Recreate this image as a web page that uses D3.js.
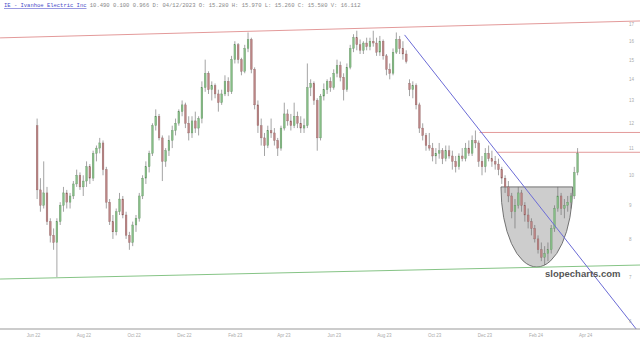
<!DOCTYPE html>
<html lang="en">
  <head>
    <meta charset="utf-8">
    <title>IE - Ivanhoe Electric Inc</title>
    <script src="https://d3js.org/d3.v7.min.js"></script>
    <style>
      body { margin: 0; background: #fff; }
    </style>
  </head>
  <body>
    <script type="text/javascript">

      var w = 640;
      var h = 343;
      var plotBottom = 329;

      // candles, one every 4 days
      var opens = [11.9,9.5,9.0,9.4,8.5,8.1,7.9,8.5,9.0,9.4,
                   9.1,9.3,9.7,10.0,9.6,9.8,10.3,9.9,10.8,11.0,
                   11.2,10.2,9.1,8.5,8.2,8.8,9.2,8.7,8.1,7.9,
                   8.4,8.6,9.3,9.9,10.3,10.8,11.9,12.3,11.4,10.5,
                   10.9,11.3,11.7,12.0,12.5,12.8,12.0,11.6,12.1,11.8,
                   12.2,13.6,14.3,13.5,13.7,13.3,12.9,13.3,13.9,13.4,
                   15.0,15.8,15.0,14.4,15.6,16.1,14.5,12.8,11.9,11.4,
                   11.1,11.7,11.6,11.3,11.0,11.8,12.4,12.1,11.9,12.3,
                   12.0,11.8,11.9,13.6,13.8,13.0,11.4,13.2,13.5,13.9,
                   13.6,14.3,14.7,14.1,13.5,14.6,15.6,16.2,15.8,15.5,
                   15.9,15.7,16.0,15.9,15.4,16.0,15.2,14.5,14.3,15.4,
                   16.1,15.6,15.3,13.8,13.5,13.7,12.8,11.8,11.5,11.1,
                   11.0,10.7,10.8,10.9,10.6,10.9,10.7,10.5,10.3,10.7,
                   10.6,11.0,10.8,11.3,11.2,10.5,10.3,10.8,10.6,10.5,
                   10.4,10.2,9.9,9.6,9.3,8.8,9.0,9.4,9.0,8.7,
                   8.5,8.3,8.0,7.7,7.5,7.6,7.7,8.3,8.9,9.3,
                   8.9,9.0,9.1,9.3,10.1];
      var highs = [12.2,9.9,10.5,9.6,8.6,8.3,8.6,9.1,9.6,9.5,
                   9.4,9.8,10.2,10.1,10.0,10.5,10.4,10.9,11.1,11.4,
                   11.3,10.3,9.2,8.7,8.9,9.4,9.3,8.8,8.2,8.5,
                   8.7,9.4,10.0,10.5,10.9,12.0,12.6,12.4,11.5,11.0,
                   11.5,11.9,12.2,12.6,13.0,12.9,12.3,12.3,12.5,12.3,
                   13.9,15.0,14.4,13.9,13.8,13.5,13.5,14.2,14.1,15.2,
                   16.0,15.9,15.1,15.8,16.5,16.2,14.6,13.0,12.2,11.6,
                   11.9,12.2,11.8,11.4,11.9,12.9,12.6,12.4,12.9,12.5,
                   12.3,12.2,14.8,14.0,13.9,13.1,13.3,13.8,14.0,14.1,
                   14.5,15.0,14.9,14.3,14.8,15.8,16.4,16.6,16.1,16.0,
                   16.2,16.2,16.6,16.2,16.3,16.1,15.3,14.8,15.6,16.5,
                   16.3,16.0,15.5,14.0,13.9,13.8,12.9,12.0,11.6,11.6,
                   11.2,11.0,11.2,11.0,11.1,11.1,10.9,10.7,10.8,11.0,
                   11.2,11.3,11.5,11.7,11.3,10.7,11.0,11.1,10.9,10.7,
                   10.6,10.3,10.0,9.8,9.4,9.2,9.6,9.5,9.1,8.9,
                   8.6,8.4,8.1,7.9,7.8,7.9,8.4,9.0,9.6,9.4,
                   9.2,9.3,9.4,10.3,11.0];
      var lows = [9.2,8.8,8.9,8.4,7.9,7.7,7.0,8.4,8.8,8.9,
                  8.9,9.2,9.6,9.5,9.3,9.6,9.7,9.8,10.5,10.8,
                  10.0,8.9,8.4,8.0,8.1,8.7,8.6,8.0,7.7,7.8,
                  8.2,8.5,9.2,9.7,10.1,10.7,11.7,11.3,9.8,10.3,
                  10.7,11.0,11.5,11.9,12.3,11.8,11.3,11.4,11.6,11.5,
                  12.0,13.4,13.3,13.0,13.1,12.5,12.8,13.2,13.2,13.3,
                  14.8,14.8,14.2,14.3,15.4,14.3,12.6,11.6,11.1,10.7,
                  11.0,11.4,11.1,10.7,10.9,11.7,11.9,11.7,11.8,11.8,
                  11.6,11.6,11.8,13.2,12.8,10.9,11.3,13.0,13.3,13.4,
                  13.5,14.1,13.9,13.0,13.4,14.5,15.4,15.5,15.3,15.3,
                  15.5,15.5,15.7,15.2,15.2,15.0,14.2,14.0,14.2,15.3,
                  15.3,15.0,14.8,13.2,13.1,12.6,11.6,11.3,10.9,10.9,
                  10.5,10.4,10.6,10.4,10.5,10.6,10.2,10.1,10.2,10.5,
                  10.5,10.7,10.7,11.0,10.3,10.0,10.1,10.5,10.3,10.2,
                  10.0,9.7,9.4,9.1,8.6,8.3,8.9,8.8,8.5,8.3,
                  8.1,7.9,7.6,7.4,7.3,7.4,7.6,8.2,8.8,8.7,
                  8.6,8.8,8.9,9.2,10.0];
      var closes = [9.5,9.0,9.4,8.5,8.1,7.9,8.5,9.0,9.4,9.1,
                    9.3,9.7,10.0,9.6,9.8,10.3,9.9,10.8,11.0,11.2,
                    10.2,9.1,8.5,8.2,8.8,9.2,8.7,8.1,7.9,8.4,
                    8.6,9.3,9.9,10.3,10.8,11.9,12.3,11.4,10.5,10.9,
                    11.3,11.7,12.0,12.5,12.8,12.0,11.6,12.1,11.8,12.2,
                    13.6,14.3,13.5,13.7,13.3,12.9,13.3,13.9,13.4,15.0,
                    15.8,15.0,14.4,15.6,16.1,14.5,12.8,11.9,11.4,11.1,
                    11.7,11.6,11.3,11.0,11.8,12.4,12.1,11.9,12.3,12.0,
                    11.8,11.9,13.6,13.8,13.0,11.4,13.2,13.5,13.9,13.6,
                    14.3,14.7,14.1,13.5,14.6,15.6,16.2,15.8,15.5,15.9,
                    15.7,16.0,15.9,15.4,16.0,15.2,14.5,14.3,15.4,16.1,
                    15.6,15.3,14.9,13.5,13.7,12.8,11.8,11.5,11.1,11.0,
                    10.7,10.8,10.9,10.6,10.9,10.7,10.5,10.3,10.7,10.6,
                    11.0,10.8,11.3,11.2,10.5,10.3,10.8,10.6,10.5,10.4,
                    10.2,9.9,9.6,9.3,8.8,9.0,9.4,9.0,8.7,8.5,
                    8.3,8.0,7.7,7.5,7.6,7.7,8.3,8.9,9.3,8.9,
                    9.0,9.1,9.3,10.1,10.8];
      var dates = d3.timeDay.range(new Date(2022, 5, 6), new Date(2024, 2, 27), 4).slice(0, closes.length);

      // axis labels
      var priceTicks = [6, 7, 8, 9, 10, 11, 12, 13, 14, 15, 16, 17];
      var monthTicks = ["2022-06-01","2022-08-01","2022-10-01","2022-12-01","2023-02-01","2023-04-01",
                        "2023-06-01","2023-08-01","2023-10-01","2023-12-01","2024-02-01","2024-04-01"];

      // drawn trend lines [date, price]
      var resistanceLine = [["2022-04-22", 16.19], ["2024-06-07", 17.18]];
      var supportLine = [["2022-04-22", 6.95], ["2024-06-07", 7.30]];
      var downTrend = [["2023-08-26", 16.36], ["2024-06-07", 5.73]];
      var upperLevel = [["2023-11-25", 11.62], ["2024-06-07", 11.62]];
      var lowerLevel = [["2023-12-16", 10.84], ["2024-06-07", 10.84]];
      // cup: left rim date, right rim date, rim price, bottom price
      var cupDates = ["2023-12-21", "2024-03-17"];
      var cupPrices = [9.6, 7.25];

      var header = "IE - Ivanhoe Electric Inc";
      var headerInfo = "10.490 0.100 0.966 D: 04/12/2023 O: 15.280 H: 15.970 L: 15.260 C: 15.580 V: 16.112";

      var parse = d3.timeParse("%Y-%m-%d");

      var svg = d3.select("body")
                  .append("svg")
                  .attr("width", w)
                  .attr("height", h)
                  .style("font-family", "'DejaVu Sans', sans-serif");

      var x = d3.scaleTime()
                .domain([new Date(2022, 5, 1), new Date(2024, 3, 1)])
                .range([33, 585]);

      var y = d3.scaleLog()
                .domain([5.833, 18.49])
                .range([plotBottom, 0]);

      svg.append("clipPath").attr("id", "plot")
         .append("rect").attr("x", 0).attr("y", 0).attr("width", w).attr("height", plotBottom);

      var plot = svg.append("g").attr("clip-path", "url(#plot)");

      // cup shape under the candles
      var cx0 = x(parse(cupDates[0])), cx1 = x(parse(cupDates[1]));
      var rimY = y(cupPrices[0]), botY = y(cupPrices[1]);
      var rx = (cx1 - cx0) / 2, ry = botY - rimY;
      plot.append("path")
          .attr("d", "M" + cx0 + "," + rimY + " A" + rx + "," + ry + " 0 0 0 " + cx1 + "," + rimY + " Z")
          .attr("fill", "#c8c8c8")
          .attr("fill-opacity", 0.9)
          .attr("stroke", "#555")
          .attr("stroke-width", 0.8);

      var line = d3.line()
                   .x(d => x(parse(d[0])))
                   .y(d => y(d[1]));

      plot.append("path").datum(resistanceLine).attr("d", line)
          .attr("stroke", "#e39a9a").attr("stroke-width", 1).attr("fill", "none");
      plot.append("path").datum(supportLine).attr("d", line)
          .attr("stroke", "#86c486").attr("stroke-width", 1).attr("fill", "none");
      plot.append("path").datum(upperLevel).attr("d", line)
          .attr("stroke", "#e39a9a").attr("stroke-width", 1).attr("fill", "none");
      plot.append("path").datum(lowerLevel).attr("d", line)
          .attr("stroke", "#e39a9a").attr("stroke-width", 1).attr("fill", "none");

      // candles
      var candles = plot.selectAll("g.candle")
                        .data(closes)
                        .enter()
                        .append("g");

      candles.append("line")
             .attr("x1", (d, i) => x(dates[i]))
             .attr("x2", (d, i) => x(dates[i]))
             .attr("y1", (d, i) => y(highs[i]))
             .attr("y2", (d, i) => y(lows[i]))
             .attr("stroke", "#666")
             .attr("stroke-width", 0.6);

      candles.append("rect")
             .attr("x", (d, i) => x(dates[i]) - 0.9)
             .attr("width", 1.8)
             .attr("y", (d, i) => y(Math.max(opens[i], d)))
             .attr("height", (d, i) => Math.max(0.8, Math.abs(y(opens[i]) - y(d))))
             .attr("fill", (d, i) => d >= opens[i] ? "#86bd86" : "#bb8585")
             .attr("stroke", (d, i) => d >= opens[i] ? "#5d8a5d" : "#8a5d5d")
             .attr("stroke-width", 0.3);

      plot.append("path").datum(downTrend).attr("d", line)
          .attr("stroke", "#6b6bd6").attr("stroke-width", 1).attr("fill", "none");

      // axes
      var yAxis = d3.axisRight(y)
                    .tickValues(priceTicks)
                    .tickFormat(d3.format("d"))
                    .tickSize(0)
                    .tickPadding(0);

      var gy = svg.append("g")
                  .attr("transform", "translate(629, 0)")
                  .call(yAxis);
      gy.select(".domain").remove();
      gy.selectAll("text").attr("fill", "#aaa").style("font-size", "4.5px");

      var xAxis = d3.axisBottom(x)
                    .tickValues(monthTicks.map(parse))
                    .tickFormat(d3.timeFormat("%b %y"))
                    .tickSize(0)
                    .tickPadding(5);

      var gx = svg.append("g")
                  .attr("transform", "translate(0," + plotBottom + ")")
                  .call(xAxis);
      gx.select(".domain").attr("d", "M0,0H" + w).attr("stroke", "#999");
      gx.selectAll("text").attr("fill", "#aaa").style("font-size", "4.5px");

      // watermark
      svg.append("text")
         .attr("x", 545)
         .attr("y", 277)
         .text("slopecharts.com")
         .attr("fill", "#555")
         .style("font-family", "'Liberation Sans', Arial, sans-serif")
         .style("font-weight", "bold")
         .style("font-size", "9.5px");

      // header
      var head = svg.append("text")
                    .attr("x", 4)
                    .attr("y", 7)
                    .style("font-family", "'Liberation Mono', monospace")
                    .style("font-size", "5.5px");
      head.append("tspan").text(header).attr("fill", "#4a4ac8").style("text-decoration", "underline");
      head.append("tspan").text(" " + headerInfo).attr("fill", "#888");

    </script>
  </body>
</html>
